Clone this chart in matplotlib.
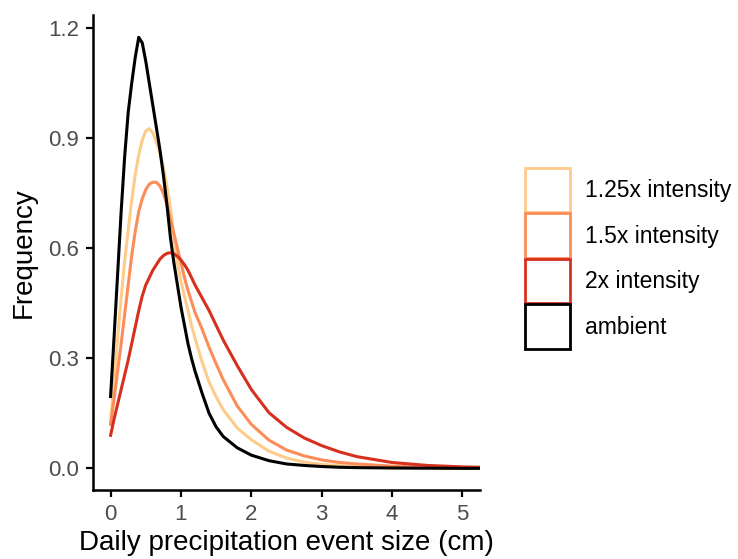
import matplotlib
matplotlib.use("Agg")
import matplotlib.pyplot as plt
from matplotlib.patches import Patch

plt.rcParams['font.family'] = ['Liberation Sans', 'DejaVu Sans']

# event size (cm)
size = [0, 0.05, 0.1, 0.15, 0.2, 0.25, 0.3, 0.35, 0.4, 0.45, 0.5, 0.55, 0.6,
        0.65, 0.7, 0.75, 0.8, 0.85, 0.9, 0.95, 1.0, 1.05, 1.1, 1.15, 1.2,
        1.3, 1.4, 1.5, 1.6, 1.8, 2.0, 2.25, 2.5, 2.75, 3.0, 3.25, 3.5,
        4.0, 4.5, 5.0, 5.25]

# frequency
f_125 = [0.125, 0.24, 0.355, 0.465, 0.565, 0.65, 0.73, 0.80, 0.855, 0.895, 0.92, 0.926, 0.915,
         0.89, 0.86, 0.82, 0.77, 0.71, 0.63, 0.56, 0.51, 0.47, 0.43, 0.39, 0.355,
         0.29, 0.235, 0.195, 0.16, 0.11, 0.078, 0.047, 0.028, 0.017, 0.011, 0.007, 0.005,
         0.002, 0.001, 0.0005, 0.0]
f_15 = [0.12, 0.19, 0.265, 0.34, 0.42, 0.50, 0.58, 0.645, 0.70, 0.735, 0.76, 0.775, 0.78,
        0.78, 0.77, 0.75, 0.72, 0.68, 0.64, 0.60, 0.56, 0.52, 0.485, 0.455, 0.425,
        0.38, 0.33, 0.285, 0.242, 0.17, 0.12, 0.077, 0.05, 0.034, 0.023, 0.016, 0.012,
        0.006, 0.003, 0.0015, 0.001]
f_2 = [0.09, 0.135, 0.175, 0.215, 0.255, 0.295, 0.34, 0.385, 0.43, 0.47, 0.50, 0.52, 0.54,
       0.555, 0.57, 0.58, 0.586, 0.588, 0.585, 0.578, 0.568, 0.555, 0.54, 0.52, 0.50,
       0.465, 0.43, 0.39, 0.35, 0.28, 0.215, 0.152, 0.112, 0.083, 0.062, 0.045, 0.032,
       0.016, 0.008, 0.004, 0.003]
f_amb = [0.196, 0.36, 0.53, 0.70, 0.85, 0.97, 1.05, 1.12, 1.175, 1.16, 1.11, 1.05, 0.99,
         0.93, 0.87, 0.80, 0.72, 0.63, 0.56, 0.50, 0.44, 0.39, 0.34, 0.30, 0.265,
         0.205, 0.15, 0.113, 0.087, 0.056, 0.036, 0.021, 0.012, 0.008, 0.005, 0.003, 0.002,
         0.001, 0.0005, 0.0, 0.0]

labels = ['1.25x intensity', '1.5x intensity', '2x intensity', 'ambient']
colors = ['#FDCC8A', '#FC8D59', '#D7301F', '#000000']
series = [f_125, f_15, f_2, f_amb]

fig = plt.figure(figsize=(7.38, 5.59), dpi=100)
ax = fig.add_axes([93/738, 1 - 490/559, (480 - 93)/738, (490 - 15)/559])

for ys, c in zip(series, colors):
    ax.plot(size, ys, color=c, lw=2.2, solid_joinstyle='round')

ax.set_xlim(-0.25, 5.25)
ax.set_ylim(-0.059, 1.236)
ax.set_xticks([0, 1, 2, 3, 4, 5])
ax.set_yticks([0, 0.3, 0.6, 0.9, 1.2])
ax.set_yticklabels(['0.0', '0.3', '0.6', '0.9', '1.2'])

for s in ['top', 'right']:
    ax.spines[s].set_visible(False)
for s in ['left', 'bottom']:
    ax.spines[s].set_linewidth(1.8)
ax.tick_params(length=5, width=1.6, labelsize=16, labelcolor='#4D4D4D', pad=5)

ax.set_xlabel('Daily precipitation event size (cm)', fontsize=20, labelpad=4)
ax.set_ylabel('Frequency', fontsize=20, labelpad=8)

handles = [Patch(facecolor='white', edgecolor=c, lw=2) for c in colors]
fig.legend(handles, labels, loc='upper left', bbox_to_anchor=(525/738, 1 - 168/559),
           frameon=False, fontsize=16.5, handlelength=1.95, handleheight=2.6,
           labelspacing=0.05, handletextpad=0.65, borderpad=0, borderaxespad=0)

fig.savefig('out.png', dpi=100)
